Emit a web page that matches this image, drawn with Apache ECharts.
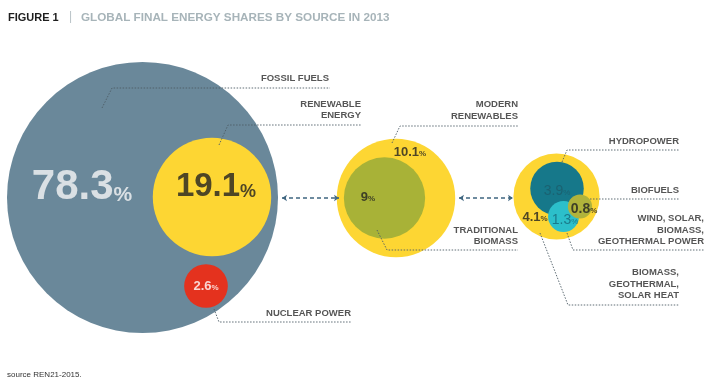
<!DOCTYPE html>
<html>
<head>
<meta charset="utf-8">
<script src="https://cdn.jsdelivr.net/npm/echarts@6/dist/echarts.min.js"></script>
<style>
html,body{margin:0;padding:0;background:#fff;}
#c{width:708px;height:382px;}
</style>
</head>
<body>
<div id="c"></div>
<script>
// ---- data ----
// circles: share of global final energy (%), area-proportional bubbles
const circleNames  = ['Total', 'Renewable energy', 'Nuclear power', 'Renewable energy (split)', 'Traditional biomass', 'Modern renewables', 'Hydropower', 'Wind, solar, biomass, geothermal power', 'Biofuels'];
const circleShares = [100, 19.1, 2.6, 19.1, 9, 10.1, 3.9, 1.3, 0.8];
// value labels shown on the chart
const valueTexts   = ['78.3', '19.1', '2.6', '10.1', '9', '3.9', '0.8', '1.3', '4.1'];
// category labels
const categoryLabels = ['FOSSIL FUELS', 'RENEWABLE\nENERGY', 'NUCLEAR POWER', 'MODERN\nRENEWABLES', 'TRADITIONAL\nBIOMASS', 'HYDROPOWER', 'BIOFUELS', 'WIND, SOLAR,\nBIOMASS,\nGEOTHERMAL POWER', 'BIOMASS,\nGEOTHERMAL,\nSOLAR HEAT'];
const titleMain = 'FIGURE 1';
const titleSub = 'GLOBAL FINAL ENERGY SHARES BY SOURCE IN 2013';
const sourceText = 'source REN21-2015.';

// ---- layout (positions / styles) ----
const K = 13.55; // px radius per sqrt(%)
const circleCenters = [[142.5,197.5],[212,197],[206,286],[396,198],[384.5,198],[556.5,196.5],[557,188.5],[563.5,216.5],[580,206.5]];
const circleColors  = ['#6a889a','#fdd633','#e4321e','#fdd633','#a8b237','#fdd633','#16788a','#2cbfca','#b0b33b'];
const valuePos  = [[82,187],[216,187],[206,286],[410,152],[368,197],[557,191],[584,209],[565,220],[535,217]];
const valueStyle = [
  {n:42, p:21, c:'#f6f6f6', w:'bold'},
  {n:33, p:18, c:'#222222', w:'bold'},
  {n:13, p:8,  c:'#ffffff', w:'bold'},
  {n:13, p:8,  c:'#222222', w:'bold'},
  {n:13, p:8,  c:'#222222', w:'bold'},
  {n:14, p:8,  c:'#1c5d6b', w:'normal'},
  {n:14, p:8,  c:'#222222', w:'bold'},
  {n:14, p:8,  c:'#17697a', w:'normal'},
  {n:13, p:8,  c:'#222222', w:'bold'}
];
const labelPos = [[329,78],[361,110],[351,313],[518,110.5],[518,236],[679,141],[679,190],[704,230],[679,284]];
const leaderCoords = [
  [[102,108],[112,88],[330,88]],
  [[219,145],[228,125],[361,125]],
  [[214,309],[219,322],[352,322]],
  [[392,143],[400,126],[518,126]],
  [[377,230],[387,250],[518,250]],
  [[562,162],[567,150],[679,150]],
  [[590,199],[679,199]],
  [[567,233],[573,250],[704,250]],
  [[540,233],[568,305],[679,305]]
];
const connectorCoords = [
  [[282,198],[339,198]],
  [[459,198],[513,198]]
];

const FONT = '"Liberation Sans", Arial, sans-serif';

const chart = echarts.init(document.getElementById('c'), null, {renderer:'canvas'});

const circleData = circleShares.map((v,i)=>({
  name: circleNames[i],
  value: [circleCenters[i][0], circleCenters[i][1], v],
  itemStyle: {color: circleColors[i], opacity: 1}
}));

const valueData = valueTexts.map((t,i)=>({
  value: valuePos[i],
  label: {
    show: true,
    position: 'inside',
    formatter: '{n|' + t + '}{p|%}',
    rich: {
      n: {fontSize: valueStyle[i].n, fontWeight: valueStyle[i].w, color: valueStyle[i].c, fontFamily: FONT, verticalAlign:'bottom', lineHeight: valueStyle[i].n},
      p: {fontSize: valueStyle[i].p, fontWeight: valueStyle[i].w, color: valueStyle[i].c, fontFamily: FONT, verticalAlign:'bottom', lineHeight: valueStyle[i].p*1.25, padding:[0,0,Math.round(valueStyle[i].n*0.05),0]}
    }
  }
}));

const labelData = categoryLabels.map((t,i)=>({
  value: labelPos[i],
  label: {show:true, formatter: t}
}));

const option = {
  animation: false,
  backgroundColor: '#ffffff',
  grid: {left:0, right:0, top:0, bottom:0, containLabel:false},
  xAxis: {type:'value', min:0, max:708, show:false},
  yAxis: {type:'value', min:0, max:382, inverse:true, show:false},
  graphic: [
    {type:'text', left:8, top:12, style:{text:titleMain, font:'bold 11px '+FONT, fill:'#1e1e1e'}},
    {type:'text', left:69, top:11, style:{text:'|', font:'12px '+FONT, fill:'#b8c2c6'}},
    {type:'text', left:81, top:11.5, style:{text:titleSub, font:'bold 11.7px '+FONT, fill:'#a7b4b9'}},
    {type:'text', left:7, top:371, style:{text:sourceText, font:'8px '+FONT, fill:'#333333'}}
  ],
  series: [
    {
      type:'scatter', name:'circles', silent:true, z:2,
      symbol:'circle',
      symbolSize: function(val){ return 2*K*Math.sqrt(val[2]); },
      itemStyle:{opacity:1},
      data: circleData,
      emphasis:{disabled:true}
    },
    {
      type:'lines', coordinateSystem:'cartesian2d', polyline:true, silent:true, z:3,
      lineStyle:{color:'#4e5d66', width:1, type:[1.5,1.5], opacity:0.9},
      symbol:'none',
      data: leaderCoords.map(c=>({coords:c}))
    },
    {
      type:'lines', coordinateSystem:'cartesian2d', silent:true, z:3,
      lineStyle:{color:'#3f6680', width:1.6, type:[4,3], opacity:1},
      symbol:['arrow','arrow'], symbolSize:5,
      data: connectorCoords.map(c=>({coords:c}))
    },
    {
      type:'scatter', name:'values', silent:true, z:4,
      symbolSize:0,
      data: valueData
    },
    {
      type:'scatter', name:'categories', silent:true, z:4,
      symbolSize:0,
      label:{show:true, position:'left', distance:0, align:'right', fontFamily:FONT, fontSize:9.5, fontWeight:'bold', color:'#2a2a2a', lineHeight:11.5},
      data: labelData
    }
  ]
};
chart.setOption(option);
</script>
</body>
</html>
